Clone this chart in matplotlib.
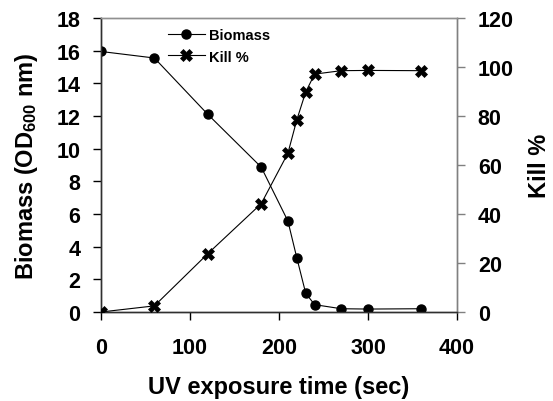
import matplotlib
matplotlib.use("Agg")
import matplotlib.pyplot as plt
from matplotlib.lines import Line2D

plt.rcParams['font.family'] = ['Liberation Sans', 'DejaVu Sans']
plt.rcParams['mathtext.fontset'] = 'custom'
plt.rcParams['mathtext.rm'] = 'Liberation Sans:bold'
plt.rcParams['mathtext.default'] = 'rm'

time_sec = [0, 60, 120, 180, 210, 220, 230, 240, 270, 300, 360]
biomass = [15.95, 15.55, 12.1, 8.87, 5.57, 3.32, 1.15, 0.45, 0.2, 0.18, 0.2]
kill_pct = [0, 2.5, 23.8, 44.2, 64.8, 78.4, 89.8, 97.1, 98.5, 98.6, 98.5]

x_ticks = [0, 100, 200, 300, 400]
left_ticks = [0, 2, 4, 6, 8, 10, 12, 14, 16, 18]
right_ticks = [0, 20, 40, 60, 80, 100, 120]

fig = plt.figure(figsize=(5.53, 4.02), dpi=100)
ax = fig.add_axes([101/553, 1-313/402, 356/553, 294/402])
ax2 = ax.twinx()

ax.plot(time_sec, biomass, color='black', lw=0.8, marker='o', ms=6.5,
        mfc='black', mec='black', zorder=3)
ax2.plot(time_sec, kill_pct, color='black', lw=0.8, marker='X', ms=8,
         mfc='black', mec='black', mew=0.5, zorder=3)

ax.set_xlim(0, 400)
ax.set_ylim(0, 18)
ax2.set_ylim(0, 120)
ax.set_xticks(x_ticks)
ax.set_yticks(left_ticks)
ax2.set_yticks(right_ticks)

for a in (ax, ax2):
    a.tick_params(axis='both', direction='out', length=6, width=1, labelsize=15.5, pad=9)
    for lab in a.get_xticklabels() + a.get_yticklabels():
        lab.set_fontweight('bold')
ax.tick_params(axis='x', pad=12)
ax2.tick_params(axis='y', color='#808080', labelcolor='black', pad=9)

for a in (ax, ax2):
    a.spines['top'].set_color('#909090')
    a.spines['right'].set_color('#808080')
    a.spines['left'].set_color('#303030')
    a.spines['bottom'].set_color('#303030')
    for s in a.spines.values():
        s.set_linewidth(1)

ax.set_xlabel('UV exposure time (sec)', fontsize=17, fontweight='bold', labelpad=12)
ax.set_ylabel('Biomass (OD$_{600}$ nm)', fontsize=17, fontweight='bold', labelpad=12)
ax2.set_ylabel('Kill %', fontsize=17, fontweight='bold', labelpad=10, rotation=90)

handles = [
    Line2D([], [], color='black', lw=0.8, marker='o', ms=6.5, mfc='black', mec='black'),
    Line2D([], [], color='black', lw=0.8, marker='X', ms=8, mfc='black', mec='black', mew=0.5),
]
leg = ax.legend(handles, ['Biomass', 'Kill %'], loc='upper left',
                bbox_to_anchor=(0.16, 1.0), frameon=False,
                prop={'size': 10.5, 'weight': 'bold'}, handlelength=2.5,
                handletextpad=0.3, labelspacing=0.5, borderaxespad=0.3)

fig.savefig('out.png', dpi=100)
